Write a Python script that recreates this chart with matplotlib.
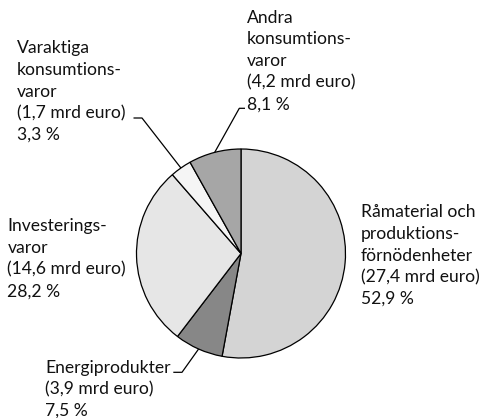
import numpy as np
import matplotlib
matplotlib.use("Agg")
import matplotlib.pyplot as plt

# ---- data ----
categories = ["Råmaterial och produktionsförnödenheter", "Energiprodukter",
              "Investeringsvaror", "Varaktiga konsumtionsvaror",
              "Andra konsumtionsvaror"]
values_mrd = [27.4, 3.9, 14.6, 1.7, 4.2]
shares_pct = [52.9, 7.5, 28.2, 3.3, 8.1]
label_lines = [
    ["Råmaterial och", "produktions-", "förnödenheter", "(27,4 mrd euro)", "52,9 %"],
    ["Energiprodukter", "(3,9 mrd euro)", "7,5 %"],
    ["Investerings-", "varor", "(14,6 mrd euro)", "28,2 %"],
    ["Varaktiga", "konsumtions-", "varor", "(1,7 mrd euro)", "3,3 %"],
    ["Andra", "konsumtions-", "varor", "(4,2 mrd euro)", "8,1 %"],
]
colors = ["#d4d4d4", "#878787", "#e6e6e6", "#f5f5f5", "#a6a6a6"]

# ---- layout (pixel-based coordinates) ----
W, H = 482, 418
plt.rcParams['font.family'] = ['Lato', 'DejaVu Sans']
fig = plt.figure(figsize=(W / 100, H / 100), dpi=100)
ax = fig.add_axes([0, 0, 1, 1])

cx, cy, r = 241, H - 253.5, 104.5
wedges, _ = ax.pie(shares_pct, colors=colors, startangle=90, counterclock=False,
                   center=(cx, cy), radius=r, frame=True,
                   wedgeprops=dict(edgecolor='black', linewidth=0.9))
ax.set_xlim(0, W)
ax.set_ylim(0, H)
ax.set_aspect('equal')
ax.axis('off')

# label blocks: left x, first baseline (pixels from top)
label_pos = [(360.7, 217.3), (45, 372.7), (7.3, 231.5), (16.7, 53.3), (247, 22.7)]
line_step = 21.7
fs = 12.6
for lines, (lx, by) in zip(label_lines, label_pos):
    for i, ln in enumerate(lines):
        ax.text(lx, H - (by + i * line_step), ln, fontsize=fs, ha='left',
                va='baseline', color='#111111')

# leader lines: (index, horizontal start x, elbow x, elbow y)
leaders = [(3, 133.5, 142, 118.0), (4, 245, 239.3, 108.3), (1, 173.3, 182, 372.3)]
for idx, x0, ex, ey in leaders:
    w = wedges[idx]
    mid = np.deg2rad((w.theta1 + w.theta2) / 2)
    px, py = cx + r * np.cos(mid), cy + r * np.sin(mid)
    ax.plot([x0, ex, px], [H - ey, H - ey, py], color='black', lw=0.9,
            solid_capstyle='butt')

fig.savefig("out.png", dpi=100)
